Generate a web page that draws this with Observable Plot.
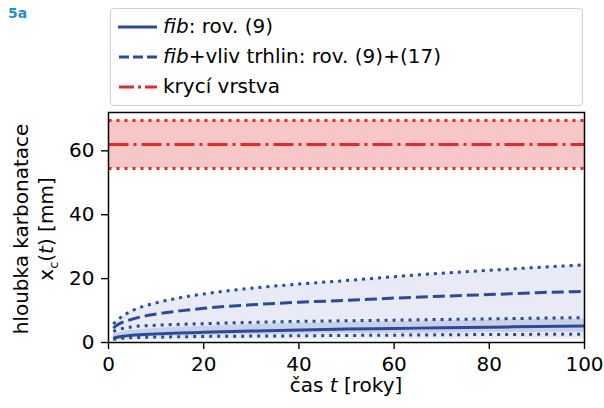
<!DOCTYPE html>
<html><head><meta charset="utf-8">
<script src="https://cdn.jsdelivr.net/npm/d3@7"></script>
<script src="https://cdn.jsdelivr.net/npm/@observablehq/plot@0.6"></script>
<style>
body{margin:0;background:#fff;font-family:"DejaVu Sans",sans-serif;}
#wrap{position:relative;width:604px;height:408px;}
.lbl{position:absolute;font-size:20px;line-height:22px;color:#000;white-space:nowrap;}
#tag{position:absolute;left:8px;top:5px;font-size:14px;font-weight:bold;color:#1b8fd2;}
#legend{position:absolute;left:110px;top:8px;width:471px;height:96px;border:1px solid #d0d0d0;border-radius:4px;background:#fff;box-sizing:content-box;}
.row{position:absolute;left:0;height:30px;font-size:20px;line-height:30px;}
.row svg{position:absolute;left:5px;top:0;}
.row span{position:absolute;left:52px;top:-1px;white-space:nowrap;}
</style></head>
<body><div id="wrap"></div>
<script>
const t          = [1, 2, 5, 10, 15, 20, 30, 40, 50, 60, 70, 80, 90, 100];
const fibMean    = [1.3, 1.7, 2.3, 2.7, 3.0, 3.2, 3.6, 3.9, 4.2, 4.4, 4.6, 4.8, 5.0, 5.2];
const fibLo      = [1.0, 1.2, 1.5, 1.7, 1.8, 1.9, 2.0, 2.1, 2.2, 2.3, 2.4, 2.5, 2.55, 2.6];
const fibHi      = [3.5, 4.0, 4.9, 5.4, 5.7, 5.9, 6.3, 6.6, 6.8, 7.0, 7.2, 7.4, 7.6, 7.8];
const fibBandLo  = [0.9, 1.1, 1.5, 1.8, 2.0, 2.2, 2.4, 2.6, 2.8, 2.9, 3.0, 3.1, 3.15, 3.2];
const fibBandHi  = [2.6, 3.0, 3.8, 4.4, 4.8, 5.1, 5.6, 6.0, 6.3, 6.5, 6.8, 7.0, 7.2, 7.3];
const crkMean    = [4.5, 5.6, 7.3, 8.9, 9.9, 10.7, 11.8, 12.6, 13.2, 13.9, 14.5, 15.0, 15.6, 16.0];
const crkHi      = [5.8, 7.2, 10.0, 12.4, 14.0, 15.2, 17.0, 18.3, 19.4, 20.6, 21.7, 22.6, 23.5, 24.3];
const crkBandLo  = [0.4, 0.5, 0.6, 0.7, 0.7, 0.8, 0.8, 0.9, 0.9, 1.0, 1.0, 1.0, 1.1, 1.1];
const coverT     = [0, 100];
const coverMean  = [62, 62];
const coverLo    = [54.5, 54.5];
const coverHi    = [69.5, 69.5];
const xTicks     = [0, 20, 40, 60, 80, 100];
const yTicks     = [0, 20, 40, 60];

const BLUE = "#2a4b9b", RED = "#e8262b";
const rows = t.map((v,i)=>({t:v, fm:fibMean[i], fl:fibLo[i], fh:fibHi[i], bl:fibBandLo[i], bh:fibBandHi[i], cm:crkMean[i], ch:crkHi[i], cl:crkBandLo[i]}));
const cov = coverT.map((v,i)=>({t:v, m:coverMean[i], lo:coverLo[i], hi:coverHi[i]}));
const DOT = "3,5", DASH = "12,5", DASHDOT = "20,5,3,5";
const L = {strokeWidth: 3, strokeLinecap: "butt", curve: "monotone-x"};

const chart = Plot.plot({
  width: 604, height: 408,
  marginTop: 112, marginLeft: 108, marginRight: 20, marginBottom: 66,
  style: {fontFamily: "DejaVu Sans", fontSize: "20px", color: "#000", background: "#fff"},
  x: {domain: [0, 100], ticks: xTicks, tickSize: 7, tickPadding: 7, label: null},
  y: {domain: [0, 72], ticks: yTicks, tickSize: 7, tickPadding: 7, label: null},
  marks: [
    Plot.areaY(cov, {x: "t", y1: "lo", y2: "hi", fill: "#f7c6c7"}),
    Plot.lineY(cov, {x: "t", y: "hi", stroke: RED, ...L, strokeDasharray: DOT}),
    Plot.lineY(cov, {x: "t", y: "lo", stroke: RED, ...L, strokeDasharray: DOT}),
    Plot.lineY(cov, {x: "t", y: "m", stroke: RED, ...L, strokeDasharray: DASHDOT}),
    Plot.areaY(rows, {x: "t", y1: "cl", y2: "ch", fill: "#e8ebf5", curve: "monotone-x"}),
    Plot.areaY(rows, {x: "t", y1: "bl", y2: "bh", fill: "#c9d1e8", curve: "monotone-x"}),
    Plot.lineY(rows, {x: "t", y: "ch", stroke: BLUE, ...L, strokeDasharray: DOT}),
    Plot.lineY(rows, {x: "t", y: "fh", stroke: BLUE, ...L, strokeDasharray: DOT}),
    Plot.lineY(rows, {x: "t", y: "fl", stroke: BLUE, ...L, strokeDasharray: DOT}),
    Plot.lineY(rows, {x: "t", y: "cm", stroke: BLUE, ...L, strokeDasharray: DASH}),
    Plot.lineY(rows, {x: "t", y: "fm", stroke: BLUE, ...L}),
    Plot.frame({stroke: "#000", strokeWidth: 1.5})
  ]
});
chart.style.position = "absolute"; chart.style.left = "0"; chart.style.top = "0";
d3.select(chart).selectAll("g[aria-label^='y-axis'] text, g[aria-label^='x-axis'] text").attr("fill", "#000");
d3.select(chart).selectAll("g[aria-label$='tick'] path").attr("stroke", "#000").attr("stroke-width", 1.4);
const wrap = document.getElementById("wrap");
wrap.appendChild(chart);

wrap.insertAdjacentHTML("beforeend", `
<div id="tag">5a</div>
<div id="legend">
  <div class="row" style="top:3px"><svg width="42" height="30"><line x1="2" x2="41" y1="15" y2="15" stroke="${BLUE}" stroke-width="3"/></svg><span><i>fib</i>: rov. (9)</span></div>
  <div class="row" style="top:33px"><svg width="42" height="30"><line x1="3" x2="41" y1="15" y2="15" stroke="${BLUE}" stroke-width="3" stroke-dasharray="10,4"/></svg><span><i>fib</i>+vliv trhlin: rov. (9)+(17)</span></div>
  <div class="row" style="top:63px"><svg width="42" height="30"><line x1="3" x2="41" y1="15" y2="15" stroke="${RED}" stroke-width="3" stroke-dasharray="15,4,3,4"/></svg><span>krycí vrstva</span></div>
</div>
<div class="lbl" style="left:346px;top:374px;transform:translateX(-50%)">čas <i>t</i> [roky]</div>
<div class="lbl" style="left:21px;top:229px;transform:translate(-50%,-50%) rotate(-90deg)">hloubka karbonatace</div>
<div class="lbl" style="left:46px;top:229px;transform:translate(-50%,-50%) rotate(-90deg)">x<sub style="font-size:13px;line-height:0">c</sub>(<i>t</i>) [mm]</div>
`);
</script></body></html>
